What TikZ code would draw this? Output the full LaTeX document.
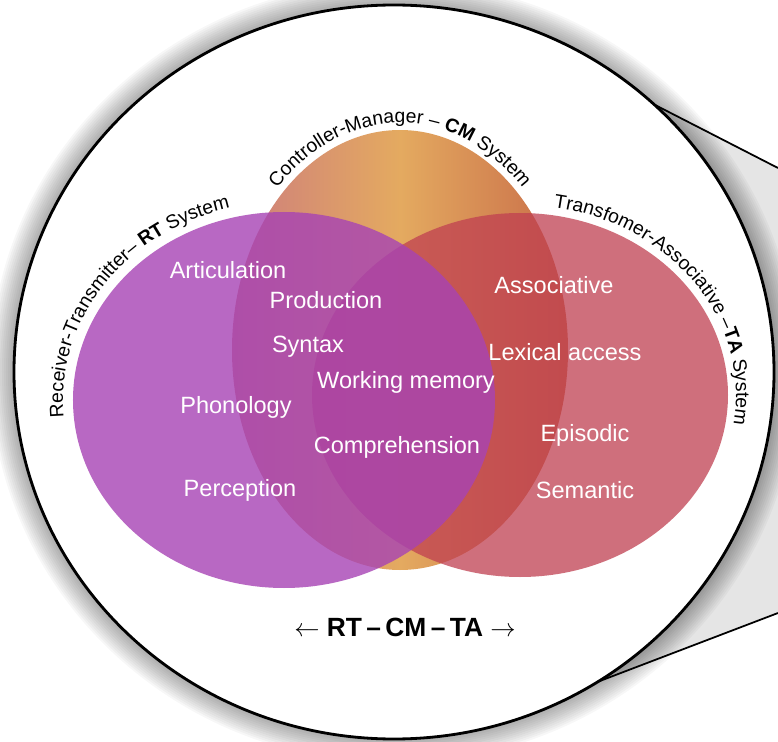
\documentclass[tikz,border=0pt]{standalone}
\usepackage{fontspec}
\setmainfont{Liberation Sans}
\usepackage{xcolor}
\usepackage{tikz}
\usetikzlibrary{decorations.text}
\definecolor{rtpurple}{RGB}{167,67,180}
\definecolor{tared}{RGB}{192,64,81}
\definecolor{cmleft}{RGB}{205,125,125}
\definecolor{cmmid}{RGB}{228,170,96}
\definecolor{cmright}{RGB}{200,108,72}
\newcommand{\arcfont}{\fontsize{11}{13}\selectfont}

\begin{document}
\begin{tikzpicture}[scale=1.0, every node/.style={font=\fontsize{13.4}{16}\selectfont, text=white}]
\useasboundingbox (-7.88,-7.40) rectangle (7.68,7.44);

% Centres
\coordinate (lens) at (0,0);
\coordinate (rt) at (-2.20,-0.56);
\coordinate (cm) at (0.12,0.44);
\coordinate (ta) at (2.52,-0.46);

% Magnifier lines
\coordinate (ut) at (46.8:7.6 and 7.34);
\coordinate (lt) at (-57.6:7.6 and 7.34);
\coordinate (ue) at (7.68,4.08);
\coordinate (le) at (7.68,-4.82);
\fill[gray!20] (ut) -- (ue) -- (le) -- (lt) arc[start angle=-57.6, end angle=46.8, x radius=7.6, y radius=7.34] -- cycle;

% Shadow of the lens
\foreach \k in {1,...,12}
  \fill[black, opacity=0.03] (lens) ellipse [x radius={7.6+0.04*\k}, y radius={7.34+0.04*\k}];

\draw[line width=1pt] (ut) -- (ue);
\draw[line width=1pt] (lt) -- (le);

% Lens
\filldraw[fill=white, draw=black, line width=1.6pt] (lens) ellipse [x radius=7.6, y radius=7.34];

% Systems
\shade[left color=cmleft, right color=cmright, middle color=cmmid] (cm) ellipse [x radius=3.36, y radius=4.40];
\fill[tared, opacity=0.75] (ta) ellipse [x radius=4.16, y radius=3.64];
\fill[rtpurple, opacity=0.8] (rt) ellipse [x radius=4.22, y radius=3.76];

% System names
\path[decorate, decoration={text along path, text align=center,
  text={|\arcfont|Receiver-Transmitter– |\arcfont\bfseries|RT|\arcfont| System}}]
  (rt) ++(195:4.42 and 3.96) arc[start angle=195, end angle=95, x radius=4.42, y radius=3.96];
\path[decorate, decoration={text along path, text align=center,
  text={|\arcfont|Controller-Manager – |\arcfont\bfseries|CM|\arcfont| System}}]
  (cm) ++(150:3.5 and 4.54) arc[start angle=150, end angle=30, x radius=3.5, y radius=4.54];
\path[decorate, decoration={text along path, text align=center,
  text={|\arcfont|Transfomer-Associative –|\arcfont\bfseries|TA|\arcfont| System}}]
  (ta) ++(100:4.32 and 3.8) arc[start angle=100, end angle=-30, x radius=4.32, y radius=3.8];

% RT
\node (artic) at (-3.32,2.04) {Articulation};
\node (phono) at (-3.16,-0.70) {Phonology};
\node (percep) at (-3.08,-2.36) {Perception};

% Overlaps
\node (prod) at (-1.36,1.44) {Production};
\node (syntax) at (-1.72,0.50) {Syntax};
\node (wm) at (0.24,-0.20) {Working memory};
\node (compr) at (0.06,-1.50) {Comprehension};

% TA
\node (assoc) at (3.20,1.74) {Associative};
\node (lex) at (3.42,0.40) {Lexical access};
\node (epis) at (3.82,-1.26) {Episodic};
\node (sem) at (3.82,-2.36) {Semantic};

% Axis
\node[text=black, font=\fontsize{15}{18}\selectfont\bfseries] (axis) at (0.22,-5.1) {$\leftarrow$\;RT\,–\,CM\,–\,TA\;$\rightarrow$};
\end{tikzpicture}
\end{document}
